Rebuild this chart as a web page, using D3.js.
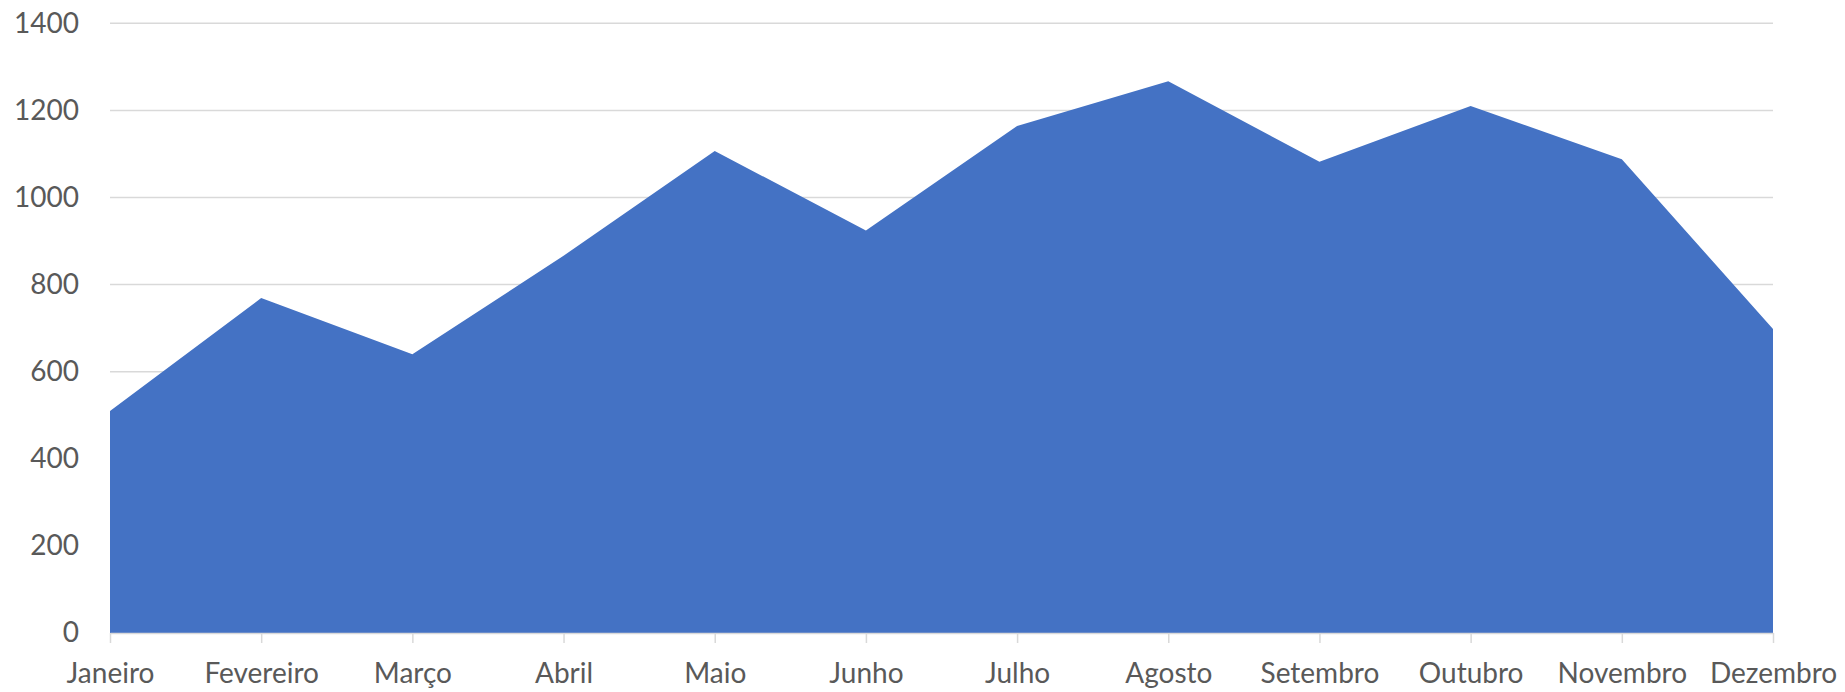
<!DOCTYPE html>
<html>
<head>
<meta charset="utf-8">
<script src="https://cdn.jsdelivr.net/npm/d3@7"></script>
<style>
  html, body { margin: 0; padding: 0; background: #ffffff; }
  svg { display: block; }
</style>
</head>
<body>
<div id="chart"></div>
<script>
const categories = ["Janeiro", "Fevereiro", "Março", "Abril", "Maio", "Junho", "Julho", "Agosto", "Setembro", "Outubro", "Novembro", "Dezembro"];
const values = [510, 769, 640, 866, 1107, 924, 1164, 1267, 1082, 1210, 1088, 698];
const yTicks = [0, 200, 400, 600, 800, 1000, 1200, 1400];

const W = 1845, H = 692;
const margin = { left: 110, right: 72, top: 23.3, bottom: 59 };
const fontFamily = "Lato, 'Open Sans', sans-serif";

const svg = d3.select("#chart").append("svg").attr("width", W).attr("height", H);

const x = d3.scalePoint().domain(categories).range([margin.left, W - margin.right]);
const y = d3.scaleLinear().domain([0, 1400]).range([H - margin.bottom, margin.top]);

// gridlines
svg.append("g").selectAll("line").data(yTicks.filter(d => d > 0)).join("line")
  .attr("x1", margin.left).attr("x2", W - margin.right)
  .attr("y1", d => y(d)).attr("y2", d => y(d))
  .attr("stroke", "#d9d9d9").attr("stroke-width", 1.5);

// area
const area = d3.area()
  .x((d, i) => x(categories[i]))
  .y0(y(0))
  .y1(d => y(d));
svg.append("path").datum(values).attr("d", area).attr("fill", "#4472C4");

// x axis
const xAxis = d3.axisBottom(x).tickSize(10).tickSizeOuter(0).tickPadding(20);
const gx = svg.append("g").attr("transform", `translate(0,${y(0)})`).call(xAxis);
gx.select(".domain").attr("stroke", "#d9d9d9").attr("stroke-width", 1.5);
gx.selectAll(".tick line").attr("stroke", "#d9d9d9").attr("stroke-width", 1.5);
gx.selectAll(".tick text").attr("fill", "#595959").attr("font-family", fontFamily).attr("font-size", 28);

// y axis labels
const yAxis = d3.axisLeft(y).tickValues(yTicks).tickSize(0).tickPadding(31).tickFormat(d3.format("d"));
const gy = svg.append("g").attr("transform", `translate(${margin.left},0)`).call(yAxis);
gy.select(".domain").remove();
gy.selectAll(".tick text").attr("fill", "#595959").attr("font-family", fontFamily).attr("font-size", 28);
</script>
</body>
</html>
